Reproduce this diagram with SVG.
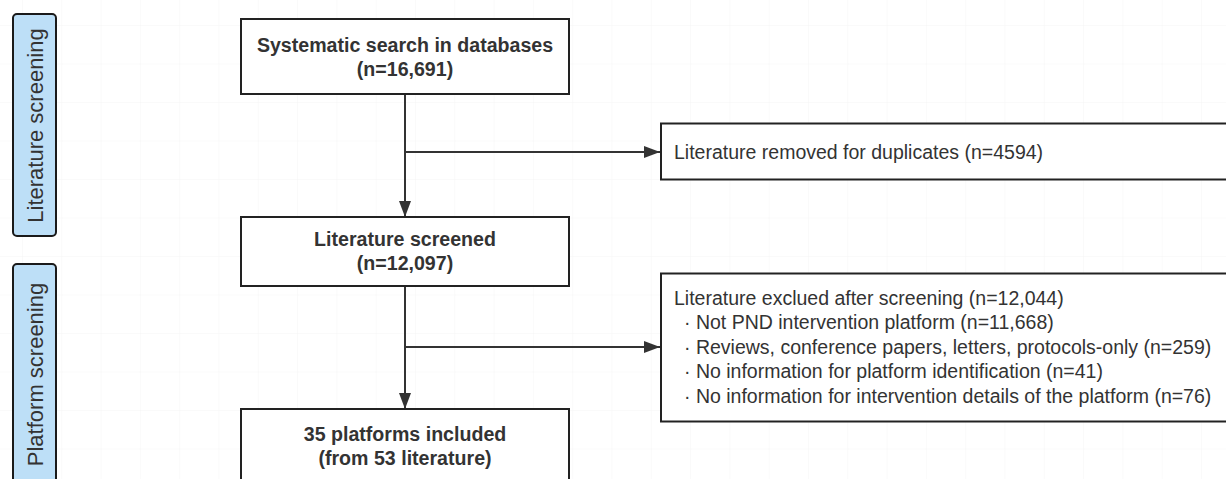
<svg xmlns="http://www.w3.org/2000/svg" width="1226" height="479" viewBox="0 0 1226 479">
<style>
.box{fill:#fff;stroke:#222;stroke-width:2}
.lane{fill:#bddff7;stroke:#1a1a1a;stroke-width:2}
.conn{fill:none;stroke:#333;stroke-width:2}
.tb{font-family:"Liberation Sans",Arial,sans-serif;font-size:19.6px;font-weight:bold;fill:#333;text-anchor:middle}
.tr{font-family:"Liberation Sans",Arial,sans-serif;font-size:19.5px;fill:#333}
.tl{font-family:"Liberation Sans",Arial,sans-serif;font-size:22px;fill:#333;text-anchor:middle}
</style>
<defs>
<pattern id="grid" patternUnits="userSpaceOnUse" x="22" y="25" width="39.3" height="38.5">
<path d="M0 0H39.3M0 0V38.5" fill="none" stroke="#f5f5f5" stroke-width="1"/>
</pattern>
<marker id="arr" viewBox="0 0 16 12" refX="16" refY="6" markerWidth="16" markerHeight="12" markerUnits="userSpaceOnUse" orient="auto">
<path d="M0 0L16 6L0 12Z" fill="#333"/>
</marker>
</defs>
<rect width="1226" height="479" fill="#fff"/>
<rect width="1226" height="479" fill="url(#grid)"/>
<g id="lane1">
<rect class="lane" x="13" y="14" width="43" height="222" rx="4"/>
<text class="tl" transform="translate(43,125.5) rotate(-90)">Literature screening</text>
</g>
<g id="lane2">
<rect class="lane" x="13" y="264" width="43" height="230" rx="4"/>
<text class="tl" transform="translate(43,374.5) rotate(-90)">Platform screening</text>
</g>
<g id="connectors">
<path class="conn" d="M405 94V217" marker-end="url(#arr)"/>
<path class="conn" d="M405 152H660" marker-end="url(#arr)"/>
<path class="conn" d="M405 286V409" marker-end="url(#arr)"/>
<path class="conn" d="M405 347H660" marker-end="url(#arr)"/>
</g>
<g id="search">
<rect class="box" x="241" y="19" width="328" height="75"/>
<text class="tb" x="405" y="52">Systematic search in databases</text>
<text class="tb" x="405" y="76">(n=16,691)</text>
</g>
<g id="screened">
<rect class="box" x="241" y="217" width="328" height="69"/>
<text class="tb" x="405" y="246">Literature screened</text>
<text class="tb" x="405" y="270">(n=12,097)</text>
</g>
<g id="included">
<rect class="box" x="241" y="409" width="328" height="90"/>
<text class="tb" x="405" y="441">35 platforms included</text>
<text class="tb" x="405" y="465">(from 53 literature)</text>
</g>
<g id="duplicates">
<rect class="box" x="661" y="123.5" width="580" height="56"/>
<text class="tr" x="674" y="159">Literature removed for duplicates (n=4594)</text>
</g>
<g id="excluded">
<rect class="box" x="661" y="273.5" width="580" height="148"/>
<text class="tr" x="674" y="305">Literature exclued after screening (n=12,044)</text>
<text class="tr" x="684" y="329.3">· Not PND intervention platform (n=11,668)</text>
<text class="tr" x="684" y="353.6">· Reviews, conference papers, letters, protocols-only (n=259)</text>
<text class="tr" x="684" y="378">· No information for platform identification (n=41)</text>
<text class="tr" x="684" y="402.5">· No information for intervention details of the platform (n=76)</text>
</g>
</svg>
